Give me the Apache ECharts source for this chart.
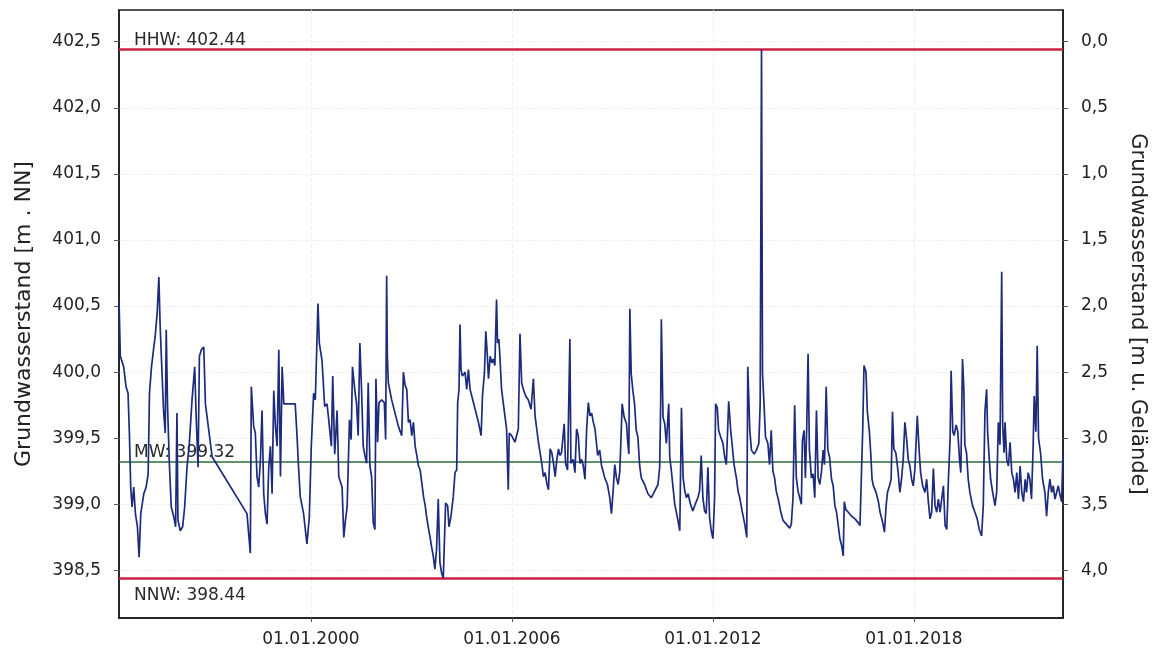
<!DOCTYPE html>
<html>
<head>
<meta charset="utf-8">
<title>Grundwasserstand</title>
<script src="https://cdn.jsdelivr.net/npm/echarts@6/dist/echarts.min.js"></script>
<style>
  html, body { margin: 0; padding: 0; background: #fff; }
  #chart { width: 1156px; height: 652px; }
</style>
</head>
<body>
<div id="chart"></div>
<script>
// Zeitpunkte (Dezimaljahre) und Grundwasserstand [m NN]
var zeit = [
  1994.27, 1994.31, 1994.41, 1994.48, 1994.54, 1994.58, 1994.62, 1994.66, 1994.71, 1994.76,
  1994.82, 1994.87, 1994.92, 1995.01, 1995.08, 1995.14, 1995.18, 1995.24, 1995.30, 1995.35,
  1995.41, 1995.46, 1995.50, 1995.55, 1995.60, 1995.65, 1995.68, 1995.72, 1995.77, 1995.83,
  1995.91, 1995.96, 1996.00, 1996.03, 1996.10, 1996.17, 1996.23, 1996.30, 1996.37, 1996.45,
  1996.53, 1996.57, 1996.63, 1996.67, 1996.73, 1996.80, 1996.85, 1996.95, 1997.05, 1998.09,
  1998.14, 1998.19, 1998.22, 1998.29, 1998.34, 1998.39, 1998.44, 1998.49, 1998.54, 1998.59,
  1998.64, 1998.69, 1998.74, 1998.79, 1998.84, 1998.89, 1998.94, 1998.99, 1999.04, 1999.09,
  1999.14, 1999.19, 1999.34, 1999.53, 1999.58, 1999.63, 1999.68, 1999.78, 1999.88, 1999.95,
  2000.01, 2000.08, 2000.13, 2000.21, 2000.25, 2000.33, 2000.41, 2000.48, 2000.53, 2000.61,
  2000.65, 2000.71, 2000.78, 2000.83, 2000.93, 2000.98, 2001.03, 2001.08, 2001.15, 2001.20,
  2001.24, 2001.32, 2001.36, 2001.41, 2001.46, 2001.51, 2001.56, 2001.61, 2001.66, 2001.71,
  2001.76, 2001.81, 2001.86, 2001.91, 2001.94, 2001.99, 2002.03, 2002.11, 2002.19, 2002.23,
  2002.26, 2002.28, 2002.31, 2002.41, 2002.51, 2002.61, 2002.71, 2002.76, 2002.81, 2002.86,
  2002.91, 2002.96, 2003.01, 2003.06, 2003.11, 2003.16, 2003.21, 2003.26, 2003.31, 2003.36,
  2003.41, 2003.45, 2003.50, 2003.55, 2003.60, 2003.65, 2003.70, 2003.75, 2003.80, 2003.85,
  2003.90, 2003.95, 2003.98, 2004.02, 2004.08, 2004.12, 2004.18, 2004.25, 2004.30, 2004.35,
  2004.38, 2004.42, 2004.45, 2004.48, 2004.52, 2004.60, 2004.65, 2004.70, 2004.75, 2004.80,
  2004.90, 2005.00, 2005.08, 2005.12, 2005.18, 2005.22, 2005.26, 2005.30, 2005.35, 2005.40,
  2005.44, 2005.49, 2005.54, 2005.57, 2005.61, 2005.64, 2005.69, 2005.74, 2005.79, 2005.84,
  2005.89, 2005.92, 2005.99, 2006.09, 2006.19, 2006.24, 2006.29, 2006.34, 2006.41, 2006.49,
  2006.57, 2006.64, 2006.69, 2006.74, 2006.79, 2006.84, 2006.89, 2006.94, 2006.99, 2007.04,
  2007.09, 2007.14, 2007.19, 2007.24, 2007.29, 2007.34, 2007.39, 2007.43, 2007.48, 2007.56,
  2007.60, 2007.66, 2007.73, 2007.76, 2007.83, 2007.88, 2007.93, 2007.98, 2008.03, 2008.08,
  2008.13, 2008.18, 2008.23, 2008.28, 2008.33, 2008.38, 2008.43, 2008.48, 2008.56, 2008.62,
  2008.67, 2008.72, 2008.77, 2008.85, 2008.92, 2008.97, 2009.02, 2009.07, 2009.12, 2009.17,
  2009.22, 2009.25, 2009.29, 2009.35, 2009.42, 2009.46, 2009.49, 2009.52, 2009.56, 2009.61,
  2009.66, 2009.71, 2009.76, 2009.81, 2009.86, 2009.96, 2010.06, 2010.16, 2010.26, 2010.36,
  2010.41, 2010.44, 2010.46, 2010.51, 2010.56, 2010.61, 2010.68, 2010.71, 2010.76, 2010.86,
  2010.94, 2011.01, 2011.06, 2011.11, 2011.16, 2011.21, 2011.26, 2011.33, 2011.40, 2011.47,
  2011.55, 2011.60, 2011.65, 2011.70, 2011.75, 2011.80, 2011.85, 2011.90, 2011.95, 2012.00,
  2012.05, 2012.08, 2012.13, 2012.17, 2012.23, 2012.30, 2012.35, 2012.40, 2012.47, 2012.53,
  2012.57, 2012.63, 2012.70, 2012.75, 2012.80, 2012.87, 2012.95, 2013.01, 2013.04, 2013.07,
  2013.10, 2013.15, 2013.23, 2013.30, 2013.37, 2013.41, 2013.45, 2013.48, 2013.53, 2013.57,
  2013.64, 2013.69, 2013.74, 2013.79, 2013.84, 2013.89, 2013.94, 2014.02, 2014.09, 2014.19,
  2014.29, 2014.34, 2014.39, 2014.44, 2014.49, 2014.54, 2014.59, 2014.64, 2014.67, 2014.72,
  2014.76, 2014.80, 2014.84, 2014.88, 2014.94, 2014.99, 2015.04, 2015.09, 2015.14, 2015.19,
  2015.24, 2015.29, 2015.33, 2015.38, 2015.43, 2015.48, 2015.54, 2015.59, 2015.64, 2015.69,
  2015.74, 2015.79, 2015.84, 2015.89, 2015.92, 2015.97, 2016.04, 2016.14, 2016.24, 2016.34,
  2016.39, 2016.44, 2016.47, 2016.51, 2016.57, 2016.61, 2016.67, 2016.71, 2016.75, 2016.79,
  2016.87, 2016.94, 2016.99, 2017.07, 2017.12, 2017.17, 2017.21, 2017.27, 2017.32, 2017.36,
  2017.40, 2017.46, 2017.53, 2017.58, 2017.63, 2017.68, 2017.73, 2017.78, 2017.83, 2017.88,
  2017.93, 2017.98, 2018.03, 2018.10, 2018.16, 2018.20, 2018.26, 2018.33, 2018.38, 2018.43,
  2018.48, 2018.53, 2018.58, 2018.63, 2018.68, 2018.73, 2018.78, 2018.83, 2018.88, 2018.93,
  2018.98, 2019.03, 2019.08, 2019.11, 2019.16, 2019.20, 2019.26, 2019.31, 2019.36, 2019.40,
  2019.45, 2019.49, 2019.52, 2019.57, 2019.62, 2019.67, 2019.75, 2019.82, 2019.89, 2019.95,
  2020.02, 2020.07, 2020.12, 2020.17, 2020.20, 2020.25, 2020.29, 2020.35, 2020.42, 2020.47,
  2020.52, 2020.57, 2020.62, 2020.65, 2020.69, 2020.72, 2020.77, 2020.82, 2020.87, 2020.92,
  2020.97, 2021.02, 2021.07, 2021.12, 2021.17, 2021.22, 2021.27, 2021.32, 2021.36, 2021.41,
  2021.46, 2021.51, 2021.56, 2021.59, 2021.64, 2021.68, 2021.72, 2021.78, 2021.84, 2021.91,
  2021.96, 2022.01, 2022.06, 2022.11, 2022.16, 2022.21, 2022.26, 2022.31, 2022.36, 2022.41,
  2022.45
];
var stand = [
  400.55, 400.12, 400.04, 399.89, 399.84, 399.54, 399.13, 398.98, 399.13, 398.93,
  398.83, 398.60, 398.93, 399.08, 399.13, 399.23, 399.84, 400.04, 400.17, 400.27,
  400.45, 400.72, 400.34, 400.02, 399.71, 399.54, 400.32, 399.74, 399.33, 398.98,
  398.90, 398.83, 399.69, 398.88, 398.80, 398.83, 398.98, 399.28, 399.46, 399.79,
  400.04, 399.69, 399.28, 400.12, 400.17, 400.19, 399.76, 399.56, 399.36, 398.93,
  398.78, 398.63, 399.89, 399.59, 399.54, 399.21, 399.13, 399.33, 399.71, 399.08,
  398.93, 398.85, 399.28, 399.44, 399.08, 399.86, 399.59, 399.44, 400.17, 399.21,
  400.04, 399.76, 399.76, 399.76, 399.54, 399.28, 399.06, 398.93, 398.70, 398.90,
  399.44, 399.84, 399.79, 400.52, 400.22, 400.09, 399.74, 399.76, 399.64, 399.44,
  399.97, 399.38, 399.71, 399.21, 399.13, 398.75, 398.88, 398.98, 399.64, 399.49,
  400.04, 399.84, 399.77, 399.52, 400.22, 399.87, 399.44, 399.37, 399.31, 399.92,
  399.29, 399.21, 398.86, 398.81, 399.95, 399.47, 399.77, 399.79, 399.77, 399.49,
  400.73, 400.12, 399.92, 399.79, 399.69, 399.59, 399.52, 400.00, 399.90, 399.87,
  399.62, 399.64, 399.52, 399.62, 399.44, 399.37, 399.29, 399.26, 399.16, 399.06,
  398.99, 398.91, 398.83, 398.76, 398.68, 398.61, 398.51, 398.66, 399.04, 398.56,
  398.48, 398.44, 398.44, 399.01, 398.99, 398.83, 398.91, 399.06, 399.24, 399.26,
  399.77, 399.87, 400.36, 400.02, 399.97, 400.00, 399.87, 400.02, 399.87, 399.82,
  399.72, 399.62, 399.52, 399.82, 400.00, 400.31, 400.15, 399.95, 400.12, 400.07,
  400.10, 400.05, 400.55, 400.22, 400.25, 400.12, 399.87, 399.77, 399.67, 399.57,
  399.11, 399.54, 399.52, 399.47, 399.57, 400.29, 399.92, 399.87, 399.82, 399.79,
  399.72, 399.95, 399.67, 399.57, 399.47, 399.39, 399.31, 399.21, 399.24, 399.16,
  399.11, 399.42, 399.39, 399.31, 399.21, 399.34, 399.42, 399.37, 399.39, 399.61,
  399.31, 399.26, 400.25, 399.31, 399.34, 399.24, 399.57, 399.52, 399.31, 399.34,
  399.29, 399.19, 399.57, 399.77, 399.67, 399.69, 399.62, 399.57, 399.37, 399.41,
  399.30, 399.25, 399.20, 399.15, 399.05, 398.93, 399.10, 399.30, 399.20, 399.15,
  399.25, 399.46, 399.76, 399.66, 399.61, 399.46, 399.38, 400.48, 399.99, 399.86,
  399.76, 399.56, 399.51, 399.30, 399.20, 399.15, 399.08, 399.05, 399.10, 399.15,
  399.28, 399.76, 400.40, 399.66, 399.61, 399.46, 399.76, 399.36, 399.25, 399.00,
  398.90, 398.80, 399.73, 399.20, 399.10, 399.05, 399.08, 399.00, 398.95, 399.00,
  399.05, 399.10, 399.37, 399.05, 398.95, 398.93, 399.28, 398.90, 398.80, 398.74,
  399.05, 399.76, 399.73, 399.56, 399.51, 399.46, 399.36, 399.30, 399.78, 399.56,
  399.46, 399.30, 399.20, 399.10, 399.05, 398.95, 398.85, 398.75, 400.04, 399.81,
  399.56, 399.41, 399.38, 399.41, 399.46, 399.76, 402.44, 399.99, 399.73, 399.51,
  399.46, 399.30, 399.56, 399.25, 399.20, 399.10, 399.05, 398.95, 398.88, 398.85,
  398.82, 398.85, 399.05, 399.75, 399.20, 399.10, 399.05, 399.00, 399.48, 399.56,
  399.20, 399.58, 400.14, 399.41, 399.20, 399.23, 399.05, 399.71, 399.20, 399.15,
  399.25, 399.41, 399.30, 399.89, 399.41, 399.36, 399.19, 399.14, 398.99, 398.94,
  398.84, 398.74, 398.69, 398.61, 399.02, 398.96, 398.94, 398.91, 398.89, 398.86,
  398.84, 399.29, 399.55, 400.05, 400.00, 399.70, 399.55, 399.39, 399.19, 399.14,
  399.09, 399.02, 398.94, 398.86, 398.79, 398.99, 399.09, 399.14, 399.19, 399.70,
  399.42, 399.39, 399.24, 399.09, 399.19, 399.34, 399.62, 399.50, 399.34, 399.29,
  399.19, 399.14, 399.27, 399.67, 399.39, 399.24, 399.14, 399.09, 399.19, 399.02,
  398.89, 398.94, 399.27, 398.99, 398.94, 399.04, 398.94, 399.04, 399.14, 398.84,
  398.81, 399.19, 399.50, 400.01, 399.55, 399.52, 399.60, 399.55, 399.34, 399.24,
  400.10, 399.87, 399.45, 399.39, 399.19, 399.09, 398.99, 398.94, 398.89, 398.81,
  398.76, 398.99, 399.70, 399.87, 399.55, 399.34, 399.19, 399.09, 398.99, 399.09,
  399.62, 399.45, 400.76, 399.60, 399.39, 399.62, 399.34, 399.29, 399.47, 399.24,
  399.19, 399.09, 399.24, 399.04, 399.29, 399.09, 399.02, 399.19, 399.09, 399.24,
  399.19, 399.04, 399.45, 399.82, 399.55, 400.20, 399.50, 399.39, 399.19, 399.09,
  398.91, 399.09, 399.19, 399.09, 399.14, 399.04, 399.09, 399.14, 399.07, 399.02,
  399.40
];

// Kennwerte [m NN]
var kennwerte = [
  { name: 'HHW', value: 402.44 },
  { name: 'MW', value: 399.32 },
  { name: 'NNW', value: 398.44 }
];
var gelaende = 402.5;       // Geländehöhe, Bezug rechte Achse
var jahrTicks = [2000, 2006, 2012, 2018];
var nnTicks = [398.5, 399.0, 399.5, 400.0, 400.5, 401.0, 401.5, 402.0, 402.5];
var uGelTicks = [0.0, 0.5, 1.0, 1.5, 2.0, 2.5, 3.0, 3.5, 4.0];

var yMin = 398.14, yMax = 402.74;
var xMin = 1994.27, xMax = 2022.45;

var punkte = zeit.map(function (t, i) { return [t, stand[i]]; });

function komma(v) { return v.toFixed(1).replace('.', ','); }

var font = 'DejaVu Sans';
var chart = echarts.init(document.getElementById('chart'));

chart.setOption({
  animation: false,
  backgroundColor: '#fff',
  grid: {
    left: 119, right: 92, top: 10, bottom: 34,
    show: true, borderColor: '#1a1a1a', borderWidth: 1.5, backgroundColor: 'transparent'
  },
  xAxis: {
    type: 'value',
    min: xMin, max: xMax,
    axisLine: { show: true, onZero: false, lineStyle: { color: '#1a1a1a', width: 1.5 } },
    axisTick: { show: true, inside: false, length: 4, customValues: jahrTicks, lineStyle: { color: '#555' } },
    axisLabel: {
      customValues: jahrTicks,
      margin: 13,
      fontFamily: font, fontSize: 17, color: '#222',
      formatter: function (v) { return '01.01.' + Math.round(v); }
    },
    splitLine: { show: true, lineStyle: { color: '#efefef', type: 'dashed' } }
  },
  yAxis: [{
    type: 'value',
    position: 'left',
    min: yMin, max: yMax,
    name: 'Grundwasserstand [m . NN]',
    nameLocation: 'middle',
    nameGap: 84,
    nameTextStyle: { fontFamily: font, fontSize: 22, color: '#222' },
    axisLine: { show: true, lineStyle: { color: '#1a1a1a', width: 1.5 } },
    axisTick: { show: true, length: 5, customValues: nnTicks, lineStyle: { color: '#555' } },
    axisLabel: {
      customValues: nnTicks,
      margin: 18,
      fontFamily: font, fontSize: 17, color: '#222',
      formatter: komma
    },
    splitLine: { show: true, lineStyle: { color: '#efefef', type: 'dashed' } }
  }, {
    type: 'value',
    position: 'right',
    inverse: true,
    min: gelaende - yMax, max: gelaende - yMin,
    name: 'Grundwasserstand [m u. Gelände]',
    nameLocation: 'middle',
    nameRotate: -90,
    nameGap: 64,
    nameTextStyle: { fontFamily: font, fontSize: 21, color: '#222' },
    axisLine: { show: true, lineStyle: { color: '#1a1a1a', width: 1.5 } },
    axisTick: { show: true, length: 5, customValues: uGelTicks, lineStyle: { color: '#555' } },
    axisLabel: {
      customValues: uGelTicks,
      margin: 18,
      fontFamily: font, fontSize: 17, color: '#222',
      formatter: komma
    },
    splitLine: { show: false }
  }],
  series: [{
    type: 'line',
    yAxisIndex: 0,
    data: punkte,
    showSymbol: false,
    lineStyle: { color: '#1d2b7c', width: 1.7 },
    z: 3,
    markLine: {
      silent: true,
      symbol: 'none',
      z: 2,
      data: kennwerte.map(function (k) {
        var rot = k.name !== 'MW';
        var unten = k.name === 'NNW';
        return {
          yAxis: k.value,
          lineStyle: { color: rot ? '#cf1f45' : '#2f6b3a', width: rot ? 2.6 : 1.6, type: 'solid' },
          label: {
            show: true,
            formatter: k.name + ': ' + k.value.toFixed(2),
            position: unten ? 'insideStartBottom' : 'insideStartTop',
            distance: unten ? [15, 9] : [15, 1],
            fontFamily: font, fontSize: 17, color: '#2a2a2a'
          }
        };
      })
    }
  }]
});
</script>
</body>
</html>
